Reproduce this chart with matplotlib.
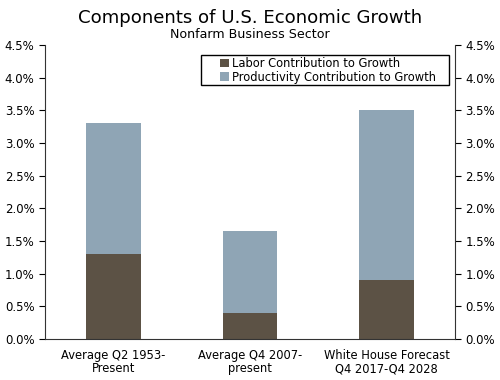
import matplotlib.pyplot as plt
import numpy as np
from matplotlib.ticker import FuncFormatter
from matplotlib.patches import Rectangle

categories = ['Average Q2 1953-\nPresent', 'Average Q4 2007-\npresent',
              'White House Forecast\nQ4 2017-Q4 2028']
labor = [1.3, 0.4, 0.9]
productivity = [2.0, 1.25, 2.6]

color_labor = '#5c5245'
color_prod = '#8fa5b5'

fig = plt.figure(figsize=(5, 3.8), dpi=100, facecolor='white')
ax = fig.add_axes([0.09, 0.108, 0.82, 0.774])

x = np.arange(len(categories))
ax.bar(x, labor, width=0.4, color=color_labor, label='Labor Contribution to Growth')
ax.bar(x, productivity, width=0.4, bottom=labor, color=color_prod,
       label='Productivity Contribution to Growth')

ax.set_xlim(-0.5, 2.5)
ax.set_ylim(0, 4.5)
ax.set_yticks(np.arange(0, 4.51, 0.5))
fmt = FuncFormatter(lambda v, p: f'{v:.1f}%')
ax.yaxis.set_major_formatter(fmt)
ax.tick_params(axis='y', which='both', labelsize=8.5, length=4, right=True,
               labelright=True, direction='out')
ax.set_xticks(x)
ax.set_xticklabels(categories, fontsize=8.3, linespacing=1.05)
ax.tick_params(axis='x', length=0, pad=7)

ax.spines['top'].set_visible(False)
for s in ['left', 'right', 'bottom']:
    ax.spines[s].set_color('#333333')

# legend with a wide hand-drawn frame
leg = ax.legend(loc='upper left', bbox_to_anchor=(0.428, 0.96), fontsize=8.3,
                frameon=False, handlelength=0.7, handleheight=0.7,
                handletextpad=0.3, borderpad=0, labelspacing=0.08,
                borderaxespad=0)
ax.add_patch(Rectangle((0.38, 0.864), 0.605, 0.102, transform=ax.transAxes,
                       fill=False, edgecolor='black', linewidth=1.0,
                       clip_on=False, zorder=5))

fig.text(0.5, 0.953, 'Components of U.S. Economic Growth', ha='center',
         va='center', fontsize=13.1)
fig.text(0.5, 0.91, 'Nonfarm Business Sector', ha='center', va='center',
         fontsize=9.1)

fig.savefig('out.png', dpi=100, facecolor='white')
